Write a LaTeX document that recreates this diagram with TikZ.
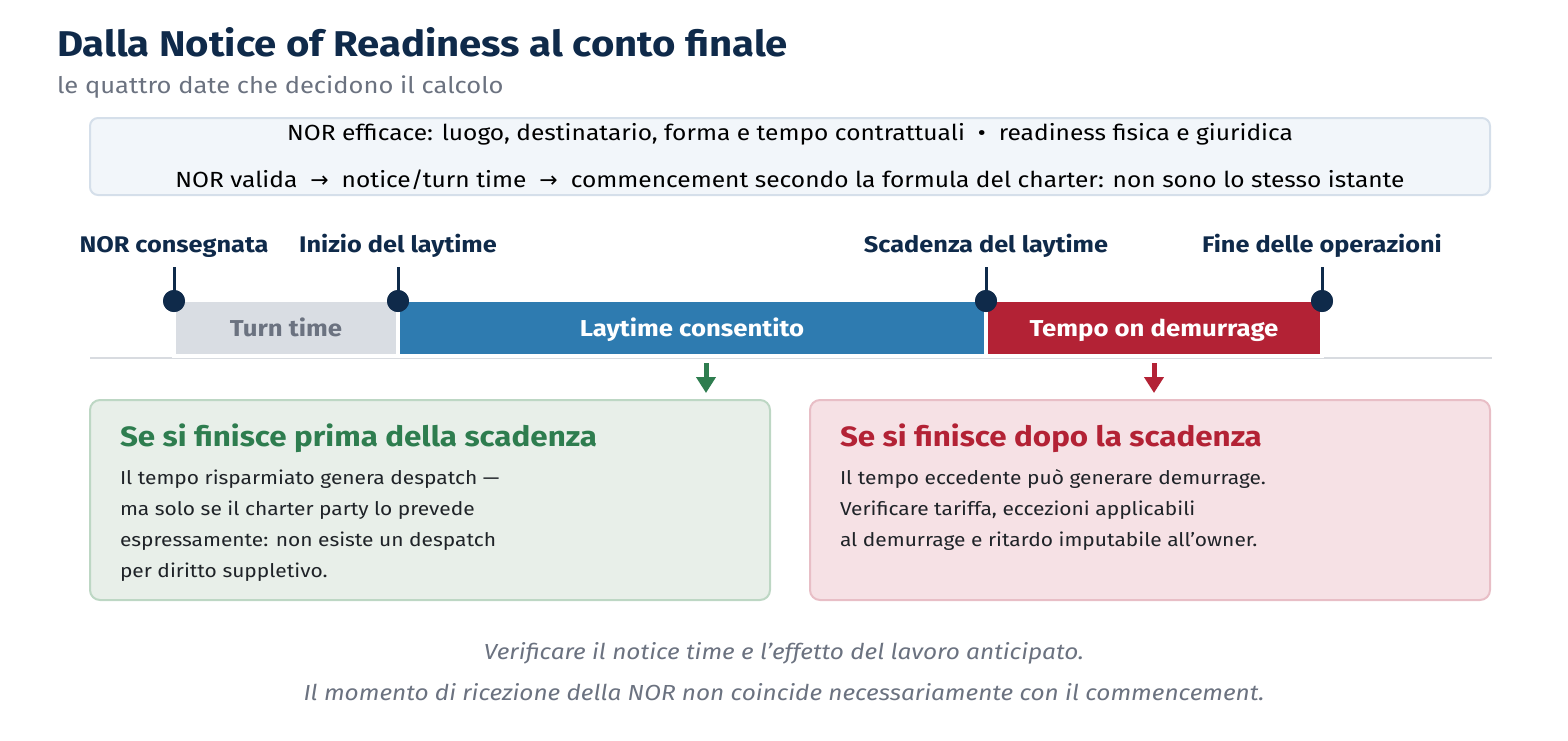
\documentclass[tikz,border=0pt]{standalone}
\usepackage{fontspec}
\setmainfont{Fira Sans}[FakeStretch=1.12]
\newfontfamily\symfont{DejaVu Sans}
\usetikzlibrary{positioning,calc,arrows.meta}
\definecolor{navy}{HTML}{0F2A4A}
\definecolor{subgray}{HTML}{6B7280}
\definecolor{notefill}{HTML}{F2F6FA}
\definecolor{noteline}{HTML}{D5DFEA}
\definecolor{turngray}{HTML}{D9DDE3}
\definecolor{layblue}{HTML}{2E7BB0}
\definecolor{demred}{HTML}{B32235}
\definecolor{axisgray}{HTML}{D8DBE0}
\definecolor{greenbg}{HTML}{E8EFE9}
\definecolor{greenline}{HTML}{BDD7C4}
\definecolor{greentxt}{HTML}{2E7D4F}
\definecolor{redbg}{HTML}{F6E1E5}
\definecolor{redline}{HTML}{E8BEC6}
\definecolor{bodytxt}{HTML}{1F2328}
\newcommand{\rarr}{{\symfont\char"2192}}

\begin{document}
\begin{tikzpicture}[x=1pt, y=-1pt,
    every node/.style={inner sep=0pt, outer sep=0pt},
    card/.style={rectangle, rounded corners=10pt, line width=2pt, minimum width=680pt, minimum height=200pt, anchor=north west},
    span/.style={rectangle, draw=white, line width=4pt, minimum height=56pt, anchor=west, text height=17pt, text depth=0pt, font=\bfseries\fontsize{23}{27}\selectfont},
    pin/.style={circle, fill=navy, minimum size=22pt},
    stamp/.style={anchor=base, text=navy, font=\bfseries\fontsize{22.6}{26}\selectfont},
    head/.style={anchor=base west, font=\bfseries\fontsize{28}{33}\selectfont},
    body/.style={anchor=base west, text=bodytxt, font=\fontsize{18.7}{22}\selectfont},
    drop/.style={-{Triangle[width=19pt,length=16pt]}, line width=5pt}
]
    \useasboundingbox (0,0) rectangle (1568,740);

    % title
    \node[anchor=base west, text=navy, font=\bfseries\fontsize{35.8}{42}\selectfont] (title) at (57,56) {Dalla Notice of Readiness al conto finale};
    \node[anchor=base west, text=subgray, font=\fontsize{22.8}{27}\selectfont] (subtitle) at (57,93) {le quattro date che decidono il calcolo};

    % note box
    \node[rectangle, rounded corners=8pt, fill=notefill, draw=noteline, line width=2pt, minimum width=1400pt, minimum height=77pt, anchor=north west] (note) at (90,118) {};
    \node[anchor=base, font=\fontsize{21.9}{26}\selectfont] (note1) at (790,140) {NOR efficace: luogo, destinatario, forma e tempo contrattuali \ \textbullet\ \ readiness fisica e giuridica};
    \node[anchor=base, font=\fontsize{21.9}{26}\selectfont] (note2) at (790,187) {NOR valida \ \rarr\ \ notice/turn time \ \rarr\ \ commencement secondo la formula del charter: non sono lo stesso istante};

    % timeline
    \coordinate (axisL) at (90,358);
    \coordinate (axisR) at (1492,358);
    \draw[axisgray, line width=2.5pt] (axisL) -- (axisR);
    \foreach \name/\a/\b/\col/\tcol/\txt in {turn/174/398/turngray/subgray/Turn time, lay/398/986/layblue/white/Laytime consentito, dem/986/1322/demred/white/Tempo on demurrage} {
        \node[span, fill=\col, text=\tcol, minimum width=\b-\a] (\name) at (\a,328) {\txt};
    }
    \foreach \name/\x/\txt in {nor/174/NOR consegnata, start/398/Inizio del laytime, expiry/986/Scadenza del laytime, finish/1322/Fine delle operazioni} {
        \node[stamp] (\name) at (\x,252) {\txt};
        \coordinate (\name top) at (\x,267);
        \node[pin] (\name dot) at (\x,301) {};
        \draw[navy, line width=3pt] (\name top) -- (\name dot.center);
        \node[pin] at (\name dot) {};
    }

    % outcomes
    \node[card, fill=greenbg, draw=greenline] (early) at (90,400) {};
    \node[card, fill=redbg, draw=redline] (late) at (810,400) {};
    \coordinate (earlyfrom) at (706,363);
    \coordinate (earlyto) at (706,393);
    \coordinate (latefrom) at (1154,363);
    \coordinate (lateto) at (1154,393);
    \draw[drop, greentxt] (earlyfrom) -- (earlyto);
    \draw[drop, demred] (latefrom) -- (lateto);

    \node[head, text=greentxt] (earlyhead) at ($(early.north west)+(30,46)$) {Se si finisce prima della scadenza};
    \foreach \i/\txt in {1/{Il tempo risparmiato genera despatch —}, 2/{ma solo se il charter party lo prevede}, 3/{espressamente: non esiste un despatch}, 4/{per diritto suppletivo.}} {
        \node[body] (early\i) at ($(early.north west)+(30,53+31*\i)$) {\txt};
    }
    \node[head, text=demred] (latehead) at ($(late.north west)+(30,46)$) {Se si finisce dopo la scadenza};
    \foreach \i/\txt in {1/{Il tempo eccedente può generare demurrage.}, 2/{Verificare tariffa, eccezioni applicabili}, 3/{al demurrage e ritardo imputabile all’owner.}} {
        \node[body] (late\i) at ($(late.north west)+(30,53+31*\i)$) {\txt};
    }

    % footer
    \node[anchor=base, text=subgray, font=\itshape\fontsize{21.8}{26}\selectfont] (foot1) at (784,659) {Verificare il notice time e l’effetto del lavoro anticipato.};
    \node[anchor=base, text=subgray, font=\itshape\fontsize{21.8}{26}\selectfont] (foot2) at (784,700) {Il momento di ricezione della NOR non coincide necessariamente con il commencement.};
\end{tikzpicture}
\end{document}
